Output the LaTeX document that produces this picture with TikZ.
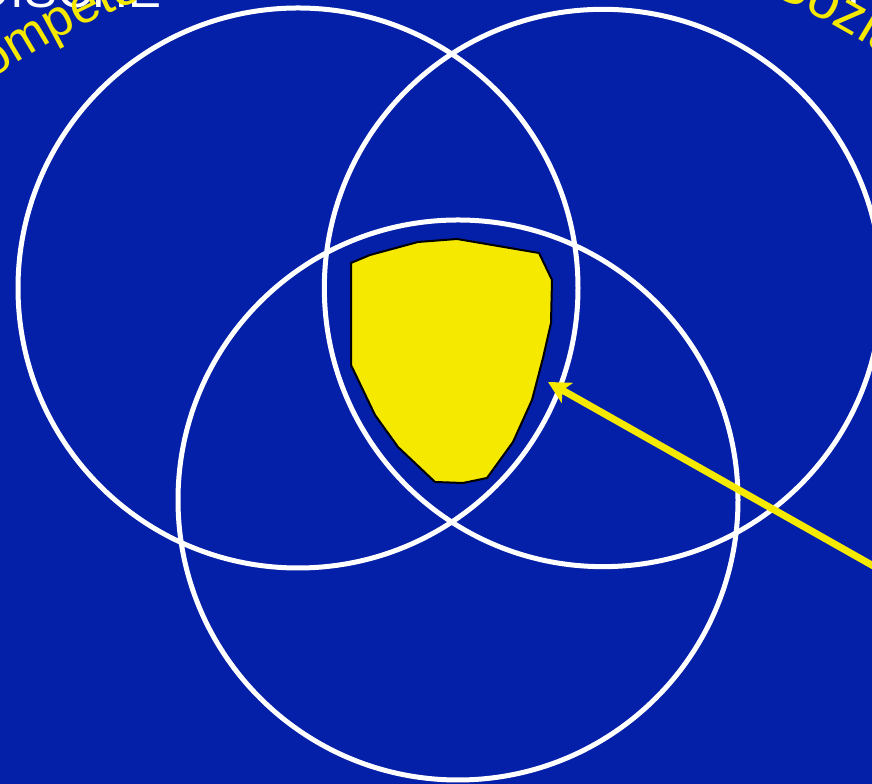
\documentclass[tikz,border=0pt]{standalone}
\usepackage{fontspec}
\setmainfont{Liberation Sans}
\usetikzlibrary{arrows.meta, decorations.text}
\definecolor{hintergrund}{RGB}{4,31,168}
\definecolor{gelb}{RGB}{245,233,0}

\begin{document}
\begin{tikzpicture}[x=0.75pt, y=0.75pt,
		kreis/.style={draw=white, line width=3.75pt},
		gross/.style={font=\fontsize{37}{40}\selectfont}]
		% Background
		\fill[hintergrund] (0,0) rectangle (872,784);
		\useasboundingbox (0,0) rectangle (872,784);
		\clip (0,0) rectangle (872,784);
		% Centres
		\coordinate (links) at (298,496);
		\coordinate (rechts) at (603,496);
		\coordinate (unten) at (458,284);
		\coordinate (bogen) at (443,47);
		% Draw circles
		\draw[kreis] (links) circle[radius=210pt];
		\draw[kreis] (rechts) circle[radius=209pt];
		\draw[kreis] (unten) circle[radius=210pt];
		% Common part
		\filldraw[fill=gelb, draw=black, line width=1.5pt] (351,521) -- (370,529) -- (418,542) -- (457,545) -- (539,531) -- (552,504) -- (551,461) -- (543,426) -- (532,384) -- (513,342) -- (487,306) -- (463,301) -- (435,302) -- (398,337) -- (375,369) -- (351,419) -- cycle;
		% Labels
		\node[gross, white, anchor=base east] (fmtitel) at (166,776) {FACHLICH-METHODISCHE};
		\node[gross, white, anchor=base west] (ptitel) at (843,779) {PERSONALE};
		\path[decorate, decoration={text along path, text color=gelb,
			text={|\fontsize{39}{42}\selectfont|Kompetenz}}]
			([shift={(127:598pt)}]bogen) arc[start angle=127, end angle=95, radius=598pt];
		\path[decorate, decoration={text along path, text color=gelb,
			text={|\fontsize{42}{45}\selectfont|Sozial-kommunikative}}]
			([shift={(66.3:609pt)}]bogen) arc[start angle=66.3, end angle=40, radius=609pt];
		% Arrow
		\coordinate (pfeilstart) at (900,203);
		\coordinate (pfeilspitze) at (548,402);
		\draw[gelb, line width=5.25pt, -{Stealth[length=16.5pt, width=17pt, inset=4pt]}] (pfeilstart) -- (pfeilspitze);
	\end{tikzpicture}
\end{document}
